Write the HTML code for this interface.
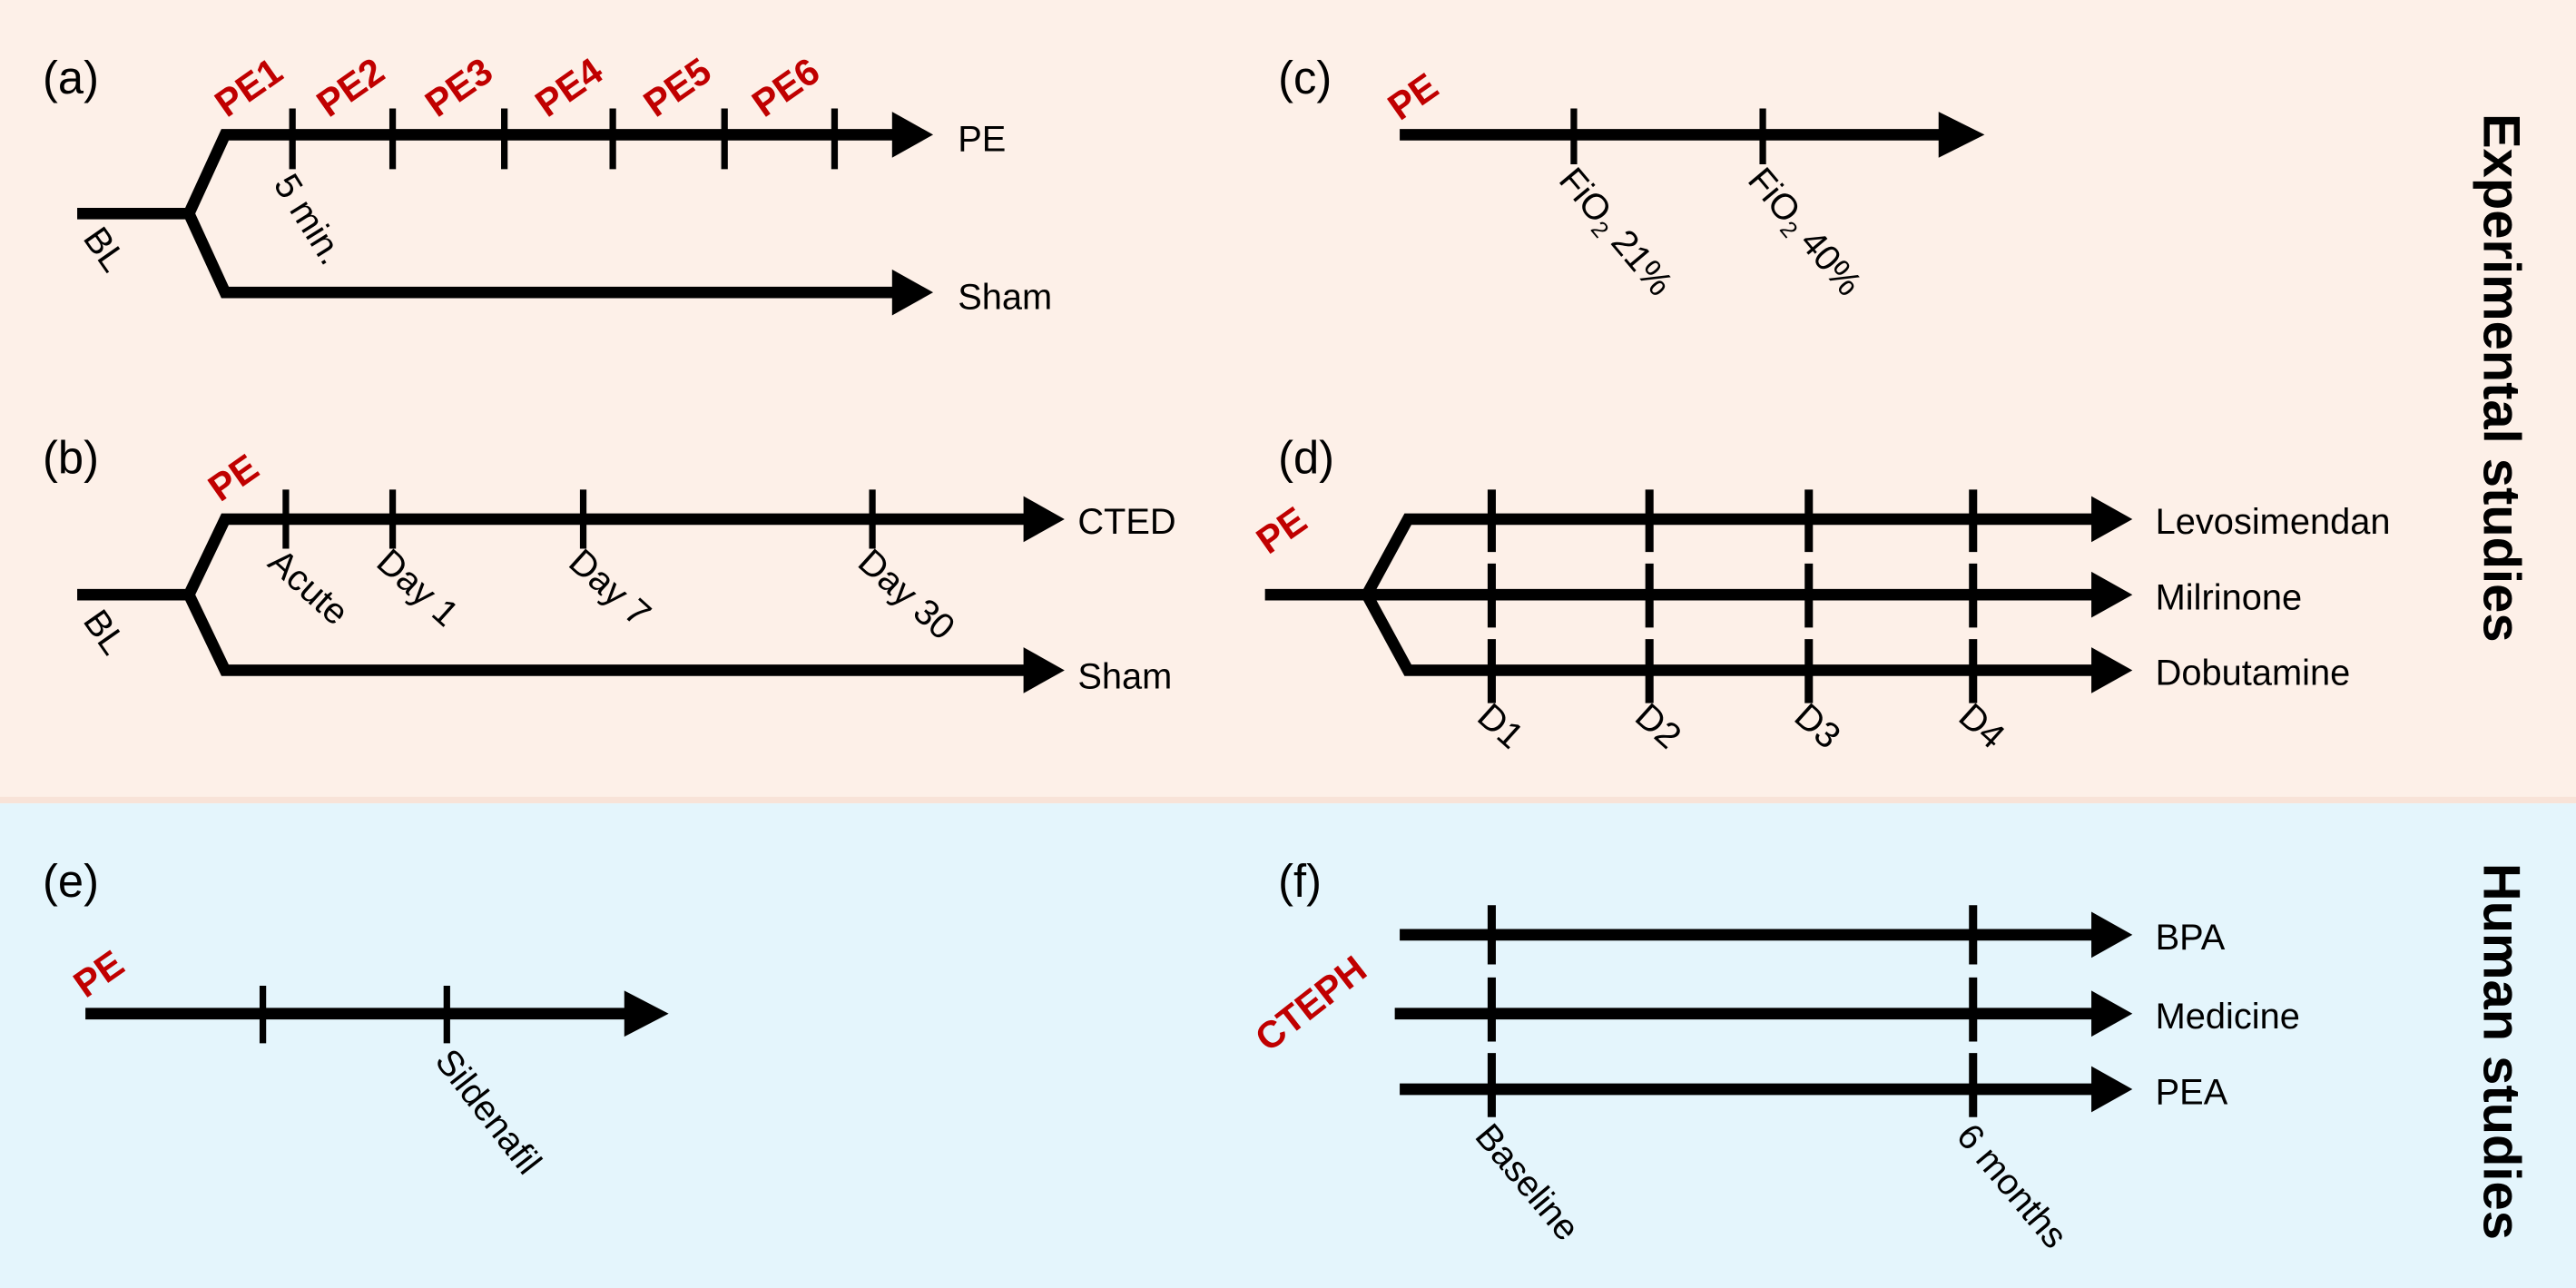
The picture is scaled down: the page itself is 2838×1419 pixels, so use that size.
<!DOCTYPE html>
<html><head><meta charset="utf-8"><style>
html,body{margin:0;padding:0;}
svg{display:block;}
text{font-family:"Liberation Sans",sans-serif;}
.l{font-size:22px;fill:#000;}
.r{font-size:23px;fill:#c00000;font-weight:bold;}
.p{font-size:28px;fill:#000;}
.v{font-size:32px;font-weight:bold;fill:#000;}
</style></head><body>
<svg width="2838" height="1419" viewBox="0 0 1568 784" xmlns="http://www.w3.org/2000/svg">
<rect x="0" y="0" width="1568" height="487" fill="#fdf0e8"/>
<rect x="0" y="485" width="1568" height="4" fill="#f8e3d8"/>
<rect x="0" y="489" width="1568" height="295" fill="#e4f5fc"/>
<g stroke="#000" stroke-width="7" fill="none" stroke-linejoin="miter">
<polyline points="47,130 115,130 137,82 545,82"/>
<polyline points="115,130 137,178 545,178"/>
<polyline points="47,362 115,362 137,316 625,316"/>
<polyline points="115,362 137,408 625,408"/>
<line x1="852" y1="82" x2="1185" y2="82"/>
<polyline points="770,362 832,362 857,316 1275,316"/>
<polyline points="832,362 857,408 1275,408"/>
<line x1="832" y1="362" x2="1275" y2="362"/>
<line x1="52" y1="617" x2="385" y2="617"/>
<line x1="852" y1="569" x2="1275" y2="569"/>
<line x1="849" y1="617" x2="1275" y2="617"/>
<line x1="852" y1="663" x2="1275" y2="663"/>
</g>
<g stroke="#000" stroke-width="4">
<line x1="178" y1="66" x2="178" y2="103"/><line x1="239" y1="66" x2="239" y2="103"/><line x1="307" y1="66" x2="307" y2="103"/><line x1="373" y1="66" x2="373" y2="103"/><line x1="441" y1="66" x2="441" y2="103"/><line x1="508" y1="66" x2="508" y2="103"/>
<line x1="174" y1="298" x2="174" y2="334"/><line x1="239" y1="298" x2="239" y2="334"/><line x1="355" y1="298" x2="355" y2="334"/><line x1="531" y1="298" x2="531" y2="334"/>
<line x1="958" y1="66" x2="958" y2="100"/><line x1="1073" y1="66" x2="1073" y2="100"/>
<line x1="160" y1="600" x2="160" y2="635"/><line x1="272" y1="600" x2="272" y2="635"/>
</g>
<g stroke="#000" stroke-width="5">
<line x1="908" y1="298" x2="908" y2="336"/><line x1="908" y1="343" x2="908" y2="382"/><line x1="908" y1="389" x2="908" y2="428"/>
<line x1="1004" y1="298" x2="1004" y2="336"/><line x1="1004" y1="343" x2="1004" y2="382"/><line x1="1004" y1="389" x2="1004" y2="428"/>
<line x1="1101" y1="298" x2="1101" y2="336"/><line x1="1101" y1="343" x2="1101" y2="382"/><line x1="1101" y1="389" x2="1101" y2="428"/>
<line x1="1201" y1="298" x2="1201" y2="336"/><line x1="1201" y1="343" x2="1201" y2="382"/><line x1="1201" y1="389" x2="1201" y2="428"/>
<line x1="908" y1="551" x2="908" y2="587"/><line x1="908" y1="595" x2="908" y2="634"/><line x1="908" y1="641" x2="908" y2="680"/>
<line x1="1201" y1="551" x2="1201" y2="587"/><line x1="1201" y1="595" x2="1201" y2="634"/><line x1="1201" y1="641" x2="1201" y2="680"/>
</g>
<g fill="#000">
<polygon points="543,68 568,82 543,96"/><polygon points="543,164 568,178 543,192"/>
<polygon points="623,302 648,316 623,330"/><polygon points="623,394 648,408 623,422"/>
<polygon points="1180,68 1208,82 1180,96"/>
<polygon points="1273,302 1298,316 1273,330"/><polygon points="1273,348 1298,362 1273,376"/><polygon points="1273,394 1298,408 1273,422"/>
<polygon points="380,603 407,617 380,631"/>
<polygon points="1273,555 1298,569 1273,583"/><polygon points="1273,603 1298,617 1273,631"/><polygon points="1273,649 1298,663 1273,677"/>
</g>
<text class="p" x="26" y="57">(a)</text>
<text class="p" x="26" y="288">(b)</text>
<text class="p" x="778" y="57">(c)</text>
<text class="p" x="778" y="288">(d)</text>
<text class="p" x="26" y="546">(e)</text>
<text class="p" x="778" y="546">(f)</text>
<g class="r">
<text transform="translate(138,72) rotate(-35)">PE1</text>
<text transform="translate(200,72) rotate(-35)">PE2</text>
<text transform="translate(266,72) rotate(-35)">PE3</text>
<text transform="translate(333,72) rotate(-35)">PE4</text>
<text transform="translate(399,72) rotate(-35)">PE5</text>
<text transform="translate(465,72) rotate(-35)">PE6</text>
<text transform="translate(134,306) rotate(-35)">PE</text>
<text transform="translate(852,74) rotate(-35)">PE</text>
<text transform="translate(772,338) rotate(-35)">PE</text>
<text transform="translate(52,608) rotate(-35)">PE</text>
<text transform="translate(772,641) rotate(-38)">CTEPH</text>
</g>
<g class="l">
<text x="583" y="92">PE</text>
<text x="583" y="188">Sham</text>
<text transform="translate(166,112) rotate(58)">5 min.</text>
<text transform="translate(50,145) rotate(55)">BL</text>
<text transform="translate(50,378) rotate(55)">BL</text>
<text transform="translate(162,344) rotate(42)">Acute</text>
<text transform="translate(228,344) rotate(42)">Day 1</text>
<text transform="translate(345,344) rotate(42)">Day 7</text>
<text transform="translate(521,344) rotate(42)">Day 30</text>
<text x="656" y="325">CTED</text>
<text x="656" y="419">Sham</text>
<text transform="translate(948,110) rotate(50)">FiO<tspan font-size="14" dy="4">2</tspan><tspan dy="-4"> 21%</tspan></text>
<text transform="translate(1063,110) rotate(50)">FiO<tspan font-size="14" dy="4">2</tspan><tspan dy="-4"> 40%</tspan></text>
<text x="1312" y="325">Levosimendan</text>
<text x="1312" y="371">Milrinone</text>
<text x="1312" y="417">Dobutamine</text>
<text transform="translate(898,438) rotate(42)">D1</text>
<text transform="translate(994,438) rotate(42)">D2</text>
<text transform="translate(1091,438) rotate(42)">D3</text>
<text transform="translate(1191,438) rotate(42)">D4</text>
<text transform="translate(264,646) rotate(52)">Sildenafil</text>
<text x="1312" y="578">BPA</text>
<text x="1312" y="626">Medicine</text>
<text x="1312" y="672">PEA</text>
<text transform="translate(897,692) rotate(50)">Baseline</text>
<text transform="translate(1190,692) rotate(50)">6 months</text>
</g>
<text class="v" text-anchor="middle" transform="translate(1512,230) rotate(90)">Experimental studies</text>
<text class="v" text-anchor="middle" transform="translate(1512,640) rotate(90)">Human studies</text>
</svg>
</body></html>
